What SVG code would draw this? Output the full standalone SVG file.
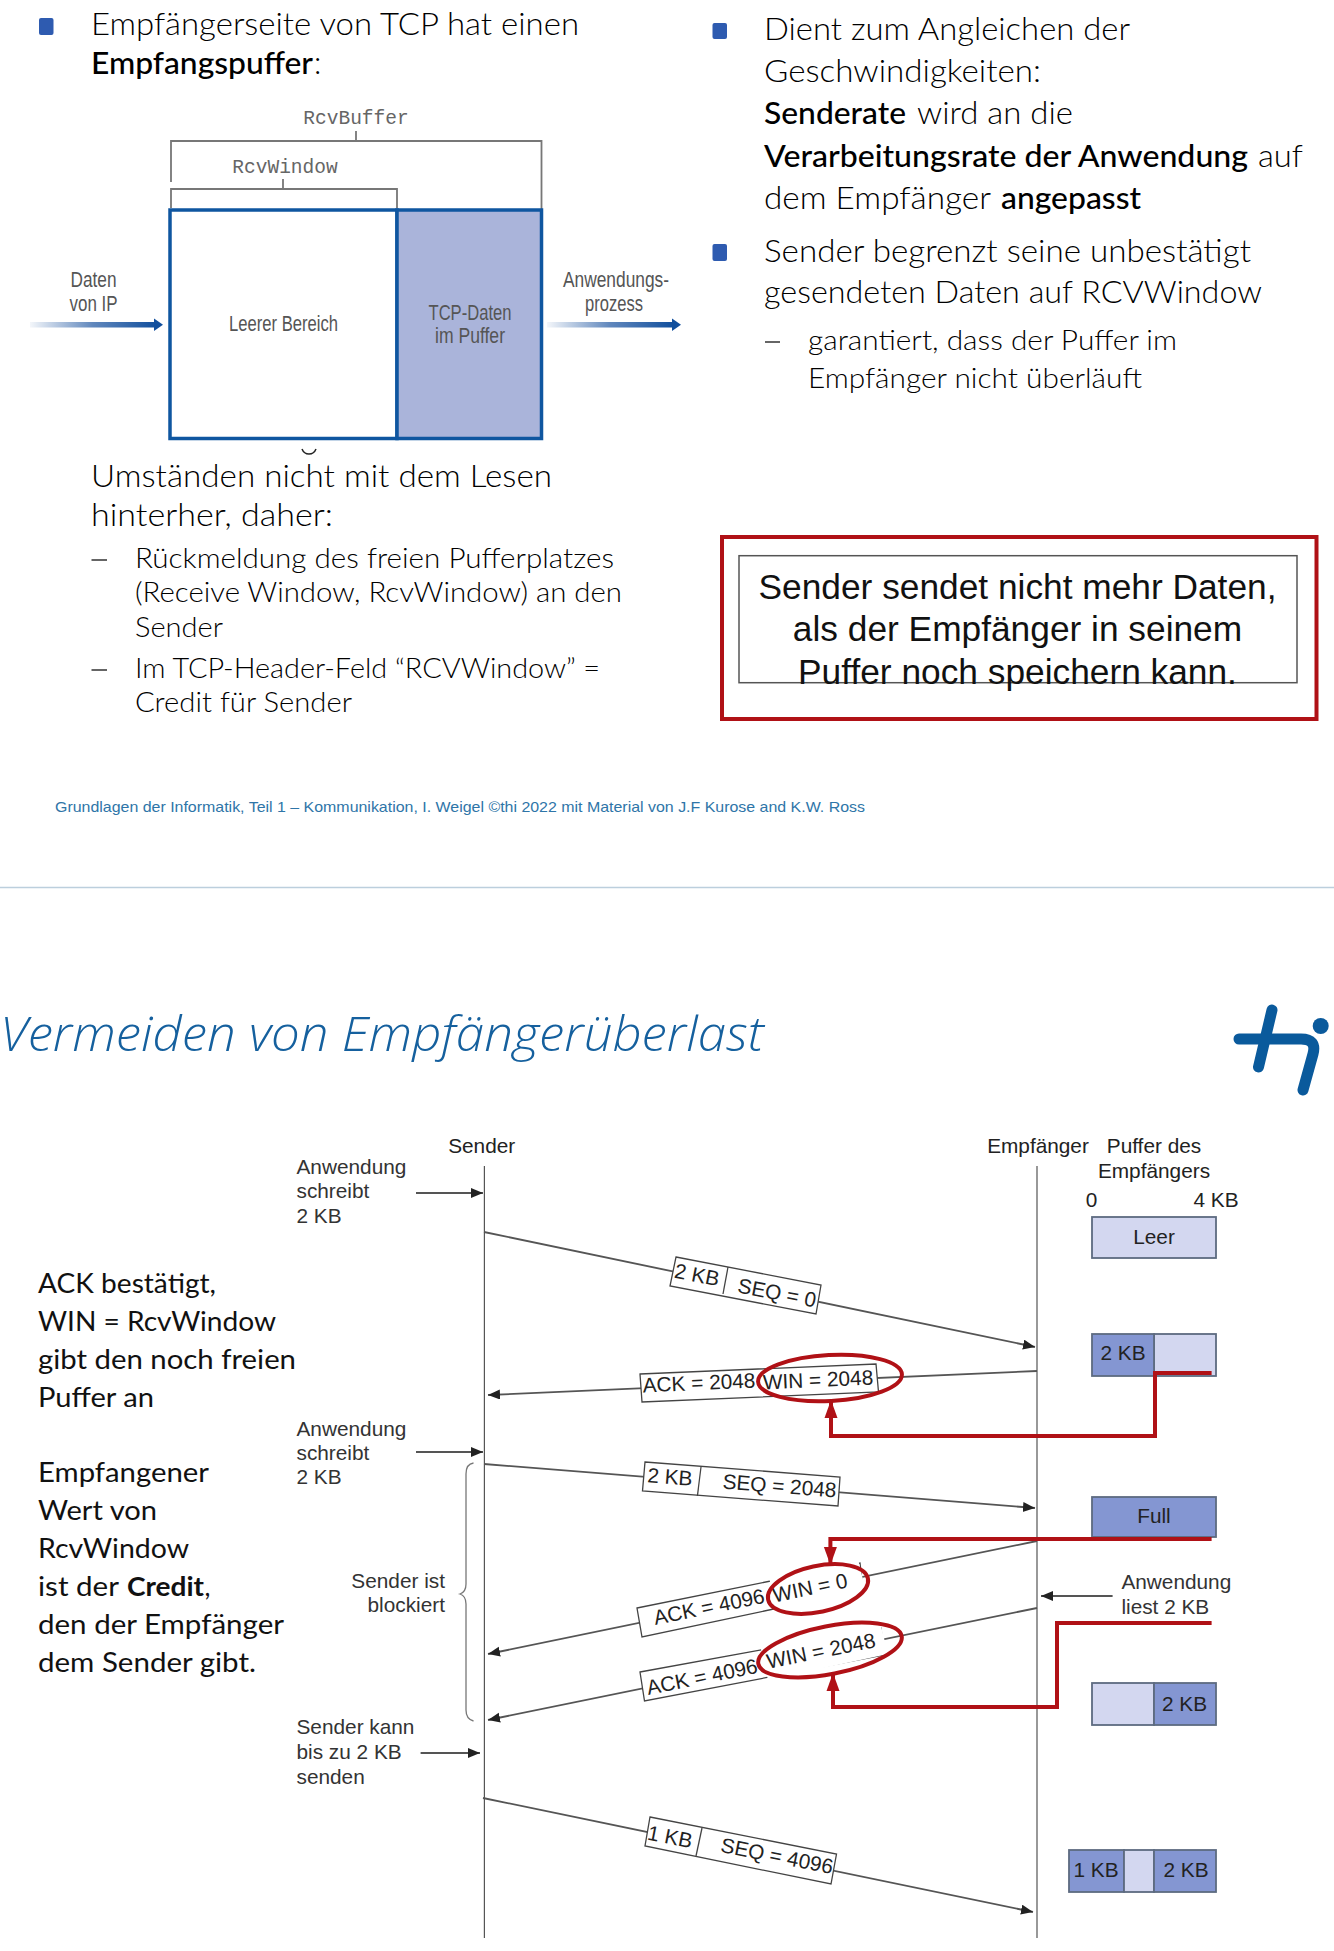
<svg xmlns="http://www.w3.org/2000/svg" width="1334" height="1951" viewBox="0 0 1334 1951">
<style>
text{font-family:"Liberation Sans",Arial,sans-serif;fill:#222}
.t{font-family:Lato,"Open Sans",sans-serif;font-weight:300;font-size:30.5px;fill:#000}
.tb{font-family:Lato,"Open Sans",sans-serif;font-weight:500;font-size:30.5px;fill:#000}
.s{font-family:Lato,"Open Sans",sans-serif;font-weight:300;font-size:27px;fill:#000}
.c{font-family:Lato,"Open Sans",sans-serif;font-weight:400;font-size:26px;fill:#111}
.cb{font-family:Lato,"Open Sans",sans-serif;font-weight:700;font-size:26px;fill:#111}
.m{font-family:"Liberation Mono",monospace;font-size:19.5px;fill:#666;text-anchor:middle}
.g{font-size:22px;fill:#555;text-anchor:middle}
.l{font-size:20.8px;fill:#333}
.lm{font-size:20.8px;fill:#222;text-anchor:middle}
.big{font-size:35.3px;fill:#111;text-anchor:middle}
.b{fill:#2e5bb0}
.d{stroke:#333;stroke-width:1.5;fill:none}
.br{stroke:#777;stroke-width:1.8;fill:none}
.pk{fill:#fff;stroke:#444;stroke-width:1.3}
.ln{stroke:#555;stroke-width:1.8;fill:none;marker-end:url(#ah)}
.life{stroke:#555;stroke-width:1.2;fill:none}
.red{stroke:#b01116;stroke-width:4;fill:none}
.redm{marker-end:url(#rh)}
.lo{fill:#d3d7f0;stroke:#5d6b80;stroke-width:1.8}
.hi{fill:#8496d2;stroke:#5d6b80;stroke-width:1.8}
</style>
<defs>
<marker id="ah" markerUnits="userSpaceOnUse" markerWidth="14" markerHeight="12" refX="12" refY="5" orient="auto"><path d="M0 0L12 5L0 10Z" fill="#222"/></marker>
<marker id="rh" markerUnits="userSpaceOnUse" markerWidth="14" markerHeight="20" refX="16" refY="6.5" orient="auto" overflow="visible"><path d="M0 0L18 6.500L0 13Z" fill="#b01116"/></marker>
<linearGradient id="fade"><stop offset="0" stop-color="#1c54a0" stop-opacity="0.05"/><stop offset="0.5" stop-color="#1c54a0" stop-opacity=".7"/><stop offset="1" stop-color="#114f9d"/></linearGradient>
</defs>
<rect width="1334" height="1951" fill="#fff"/>

<g id="text-top-left">
<rect class="b" x="39" y="18" width="14.500" height="17" rx="2"/>
<text class="t" x="91" y="35" textLength="488" lengthAdjust="spacingAndGlyphs">Empfängerseite von TCP hat einen</text>
<text class="tb" x="91" y="74" textLength="222" lengthAdjust="spacingAndGlyphs">Empfangspuffer</text>
<text class="t" x="314" y="74">:</text>
<path d="M302 449Q304 454 309 454Q314 454 316 449" stroke="#222" stroke-width="1.500" fill="none"/>
<text class="t" x="91" y="487" textLength="461" lengthAdjust="spacingAndGlyphs">Umständen nicht mit dem Lesen</text>
<text class="t" x="91" y="525.500" textLength="242" lengthAdjust="spacingAndGlyphs">hinterher, daher:</text>
<path d="M91.500 560H107M91.500 670H107" stroke="#333" stroke-width="1.500"/>
<text class="s" x="135" y="568" textLength="479" lengthAdjust="spacingAndGlyphs">Rückmeldung des freien Pufferplatzes</text>
<text class="s" x="135" y="602" textLength="487" lengthAdjust="spacingAndGlyphs">(Receive Window, RcvWindow) an den</text>
<text class="s" x="135" y="637" textLength="88" lengthAdjust="spacingAndGlyphs">Sender</text>
<text class="s" x="135" y="678" textLength="465" lengthAdjust="spacingAndGlyphs">Im TCP-Header-Feld “RCVWindow” =</text>
<text class="s" x="135" y="712" textLength="217" lengthAdjust="spacingAndGlyphs">Credit für Sender</text>
</g>

<g id="text-top-right">
<rect class="b" x="712.500" y="23" width="14.500" height="16" rx="2"/>
<rect class="b" x="712.500" y="244" width="14.500" height="17" rx="2"/>
<text class="t" x="764" y="40" textLength="366" lengthAdjust="spacingAndGlyphs">Dient zum Angleichen der</text>
<text class="t" x="764" y="82" textLength="277" lengthAdjust="spacingAndGlyphs">Geschwindigkeiten:</text>
<text class="tb" x="764" y="124" textLength="142" lengthAdjust="spacingAndGlyphs">Senderate</text>
<text class="t" x="917" y="124" textLength="156" lengthAdjust="spacingAndGlyphs">wird an die</text>
<text class="tb" x="764" y="167" textLength="484" lengthAdjust="spacingAndGlyphs">Verarbeitungsrate der Anwendung</text>
<text class="t" x="1258" y="167" textLength="45" lengthAdjust="spacingAndGlyphs">auf</text>
<text class="t" x="764" y="209" textLength="227" lengthAdjust="spacingAndGlyphs">dem Empfänger</text>
<text class="tb" x="1001" y="209" textLength="140" lengthAdjust="spacingAndGlyphs">angepasst</text>
<text class="t" x="764" y="262" textLength="487" lengthAdjust="spacingAndGlyphs">Sender begrenzt seine unbestätigt</text>
<text class="t" x="764" y="303" textLength="498" lengthAdjust="spacingAndGlyphs">gesendeten Daten auf RCVWindow</text>
<path d="M765 342H780" stroke="#333" stroke-width="1.500"/>
<text class="s" x="808" y="350" textLength="369" lengthAdjust="spacingAndGlyphs">garantiert, dass der Puffer im</text>
<text class="s" x="808" y="388" textLength="334" lengthAdjust="spacingAndGlyphs">Empfänger nicht überläuft</text>
</g>

<g id="buffer-figure">
<text class="m" x="356" y="124">RcvBuffer</text>
<path class="br" d="M171 182V141H541.500V210M356 131V141"/>
<text class="m" x="285" y="173">RcvWindow</text>
<path class="br" d="M171 208V189H397V208M283 179V189"/>
<rect id="empty-area" x="170" y="210" width="227" height="228.500" fill="#fff" stroke="#0f56a0" stroke-width="3.500"/>
<rect id="tcp-data" x="397" y="210" width="144.500" height="228.500" fill="#aab4da" stroke="#0f56a0" stroke-width="3.500"/>
<text class="g" x="283.500" y="331" textLength="109" lengthAdjust="spacingAndGlyphs">Leerer Bereich</text>
<text class="g" x="470" y="320" textLength="83" lengthAdjust="spacingAndGlyphs">TCP-Daten</text>
<text class="g" x="470" y="343" textLength="70" lengthAdjust="spacingAndGlyphs">im Puffer</text>
<text class="g" x="93.500" y="287" textLength="46" lengthAdjust="spacingAndGlyphs">Daten</text>
<text class="g" x="93.500" y="311" textLength="48" lengthAdjust="spacingAndGlyphs">von IP</text>
<text class="g" x="616" y="287" textLength="106" lengthAdjust="spacingAndGlyphs">Anwendungs-</text>
<text class="g" x="614" y="311" textLength="58" lengthAdjust="spacingAndGlyphs">prozess</text>
<rect x="30" y="322" width="126" height="5.500" fill="url(#fade)"/>
<path d="M154 318.500L163 324.700L154 331Z" fill="#114f9d"/>
<rect x="547" y="322" width="126" height="5.500" fill="url(#fade)"/>
<path d="M672 318.500L681 324.700L672 331Z" fill="#114f9d"/>
</g>

<g id="summary-box">
<rect x="722" y="537" width="594.500" height="182" fill="none" stroke="#b01116" stroke-width="4"/>
<rect x="739" y="555.700" width="558" height="127" fill="#fff" stroke="#555" stroke-width="1.500"/>
<text class="big" x="1017.500" y="599">Sender sendet nicht mehr Daten,</text>
<text class="big" x="1017.500" y="641">als der Empfänger in seinem</text>
<text class="big" x="1017.500" y="684">Puffer noch speichern kann.</text>
</g>

<g id="footer">
<text x="55" y="812" font-size="15" style="fill:#2e75a8" textLength="810" lengthAdjust="spacingAndGlyphs">Grundlagen der Informatik, Teil 1 – Kommunikation, I. Weigel ©thi 2022 mit Material von J.F Kurose and K.W. Ross</text>
</g>
<path id="page-separator" d="M0 887.500H1334" stroke="#bccfdd" stroke-width="1.500"/>

<g id="title">
<text x="0" y="1051" font-size="48" font-style="italic" style="font-family:'Open Sans',Lato,sans-serif;font-weight:300;fill:#15609e" textLength="764" lengthAdjust="spacingAndGlyphs">Vermeiden von Empfängerüberlast</text>
</g>
<g id="logo" fill="none" stroke="#0a5a9c" stroke-width="11" stroke-linecap="round" stroke-linejoin="round">
<path d="M1272 1010L1258.500 1067"/>
<path d="M1239 1039H1301Q1317 1039 1313 1054L1303 1090"/>
<circle cx="1320.700" cy="1026" r="8" fill="#0a5a9c" stroke="none"/>
</g>

<g id="notes-left">
<text class="c" x="38" y="1293" textLength="178" lengthAdjust="spacingAndGlyphs">ACK bestätigt,</text>
<text class="c" x="38" y="1331" textLength="238" lengthAdjust="spacingAndGlyphs">WIN = RcvWindow</text>
<text class="c" x="38" y="1369" textLength="258" lengthAdjust="spacingAndGlyphs">gibt den noch freien</text>
<text class="c" x="38" y="1407" textLength="116" lengthAdjust="spacingAndGlyphs">Puffer an</text>
<text class="c" x="38" y="1482" textLength="171" lengthAdjust="spacingAndGlyphs">Empfangener</text>
<text class="c" x="38" y="1520" textLength="119" lengthAdjust="spacingAndGlyphs">Wert von</text>
<text class="c" x="38" y="1558" textLength="151" lengthAdjust="spacingAndGlyphs">RcvWindow</text>
<text class="c" x="38" y="1596" textLength="81" lengthAdjust="spacingAndGlyphs">ist der</text>
<text class="cb" x="127" y="1596" textLength="77" lengthAdjust="spacingAndGlyphs">Credit</text>
<text class="c" x="204.500" y="1596">,</text>
<text class="c" x="38" y="1634" textLength="246" lengthAdjust="spacingAndGlyphs">den der Empfänger</text>
<text class="c" x="38" y="1672" textLength="218" lengthAdjust="spacingAndGlyphs">dem Sender gibt.</text>
</g>

<g id="lifeline-labels">
<text class="lm" x="481.700" y="1153">Sender</text>
<text class="lm" x="1038" y="1153">Empfänger</text>
<text class="lm" x="1154" y="1153">Puffer des</text>
<text class="lm" x="1154" y="1178">Empfängers</text>
<text class="lm" x="1091.600" y="1207">0</text>
<text class="lm" x="1216" y="1207">4 KB</text>
<text class="l" x="296.500" y="1174">Anwendung</text>
<text class="l" x="296.500" y="1198">schreibt</text>
<text class="l" x="296.500" y="1223">2 KB</text>
<text class="l" x="296.500" y="1436">Anwendung</text>
<text class="l" x="296.500" y="1460">schreibt</text>
<text class="l" x="296.500" y="1484">2 KB</text>
<text class="l" x="445" y="1588" text-anchor="end">Sender ist</text>
<text class="l" x="445" y="1612" text-anchor="end">blockiert</text>
<text class="l" x="296.500" y="1734">Sender kann</text>
<text class="l" x="296.500" y="1759">bis zu 2 KB</text>
<text class="l" x="296.500" y="1784">senden</text>
<text class="l" x="1121.400" y="1589">Anwendung</text>
<text class="l" x="1121.400" y="1614">liest 2 KB</text>
</g>

<g id="connectors">
<path class="life" d="M484.400 1166V1938M1037 1166V1938"/>
<path class="ln" d="M416 1193H483"/>
<path class="ln" d="M416 1452H483"/>
<path class="ln" d="M420.600 1753H480"/>
<path class="ln" d="M1112.600 1596H1041"/>
<path class="br" style="stroke-width:1.300" d="M473.500 1463Q466 1464 466 1474V1584Q466 1592 460 1594Q466 1596 466 1604V1710Q466 1719 473.500 1721"/>
<path class="ln" d="M484 1232L1035 1347"/>
<path class="ln" d="M1037 1371L488 1395"/>
<path class="ln" d="M484 1464L1035 1508"/>
<path class="ln" d="M1037 1541L488 1654"/>
<path class="ln" d="M1037 1608L488 1720"/>
<path class="ln" d="M483 1798L1033 1912"/>
</g>

<g id="segment-1">
<path class="pk" d="M676 1257L821 1285L816 1314L670 1286Z"/>
<path class="pk" d="M728 1267L723 1294"/>
<text class="lm" transform="translate(697 1275) rotate(11)" y="7">2 KB</text>
<text class="lm" transform="translate(777 1293) rotate(11)" y="7">SEQ = 0</text>
</g>
<g id="ack-1">
<path class="pk" d="M640 1374L876 1364L878.500 1392L642 1402Z"/>
<text class="lm" transform="translate(699 1383) rotate(-2.500)" y="7">ACK = 2048</text>
<text class="lm" transform="translate(818 1380) rotate(-2.500)" y="7">WIN = 2048</text>
<ellipse class="red" cx="830" cy="1378" rx="72" ry="23" transform="rotate(-3 830 1378)"/>
</g>
<g id="segment-2">
<path class="pk" d="M645 1462L840 1477L838 1506L642.500 1491Z"/>
<path class="pk" d="M701 1467L697.400 1496"/>
<text class="lm" transform="translate(670 1477) rotate(4.500)" y="7">2 KB</text>
<text class="lm" transform="translate(779.500 1486) rotate(4.500)" y="7">SEQ = 2048</text>
</g>
<g id="ack-2">
<path class="pk" d="M637 1608L860 1563L863 1590L642 1637Z"/>
<text class="lm" transform="translate(709 1607) rotate(-11.500)" y="7">ACK = 4096</text>
<path d="M769 1577L858 1559L866 1592L776 1612Z" fill="#fff"/>
<text class="lm" transform="translate(810 1588) rotate(-11.500)" y="7">WIN = 0</text>
<ellipse class="red" cx="818" cy="1589" rx="51" ry="23" transform="rotate(-12 818 1589)"/>
</g>
<g id="ack-3">
<path class="pk" d="M640 1672L881 1628L884 1655L644.500 1701Z"/>
<text class="lm" transform="translate(702 1677) rotate(-11.500)" y="7">ACK = 4096</text>
<path d="M760 1645L880 1622L888 1654L768 1680Z" fill="#fff"/>
<text class="lm" transform="translate(821 1651) rotate(-11.500)" y="7">WIN = 2048</text>
<ellipse class="red" cx="830" cy="1650" rx="73" ry="24" transform="rotate(-11 830 1650)"/>
</g>
<g id="segment-3">
<path class="pk" d="M650 1817L836.500 1854L831 1884L645 1846Z"/>
<path class="pk" d="M702 1828L696 1856"/>
<text class="lm" transform="translate(670 1837) rotate(11.200)" y="7">1 KB</text>
<text class="lm" transform="translate(777 1856) rotate(11.200)" y="7">SEQ = 4096</text>
</g>

<g id="buffer-empty">
<rect class="lo" x="1092" y="1217" width="124" height="41"/>
<text class="lm" x="1154" y="1244">Leer</text>
</g>
<g id="buffer-half">
<rect class="lo" x="1154" y="1334" width="62" height="42"/>
<rect class="hi" x="1092" y="1334" width="62" height="42"/>
<text class="lm" x="1123" y="1360">2 KB</text>
</g>
<g id="buffer-full">
<rect class="hi" x="1092" y="1497" width="124" height="40"/>
<text class="lm" x="1154" y="1523">Full</text>
</g>
<g id="buffer-read">
<rect class="lo" x="1092" y="1683" width="62" height="42"/>
<rect class="hi" x="1154" y="1683" width="62" height="42"/>
<text class="lm" x="1184.500" y="1711">2 KB</text>
</g>
<g id="buffer-last">
<rect class="hi" x="1069" y="1850" width="55" height="42"/>
<rect class="lo" x="1124" y="1850" width="30" height="42"/>
<rect class="hi" x="1154" y="1850" width="62" height="42"/>
<text class="lm" x="1096" y="1877">1 KB</text>
<text class="lm" x="1186" y="1877">2 KB</text>
</g>

<g id="credit-connectors">
<path class="red redm" d="M1211.600 1373H1155V1436H831V1402"/>
<path class="red redm" d="M1211.600 1539H830.400V1563"/>
<path class="red redm" d="M1211.600 1623H1057V1707H833V1675"/>
</g>
</svg>
